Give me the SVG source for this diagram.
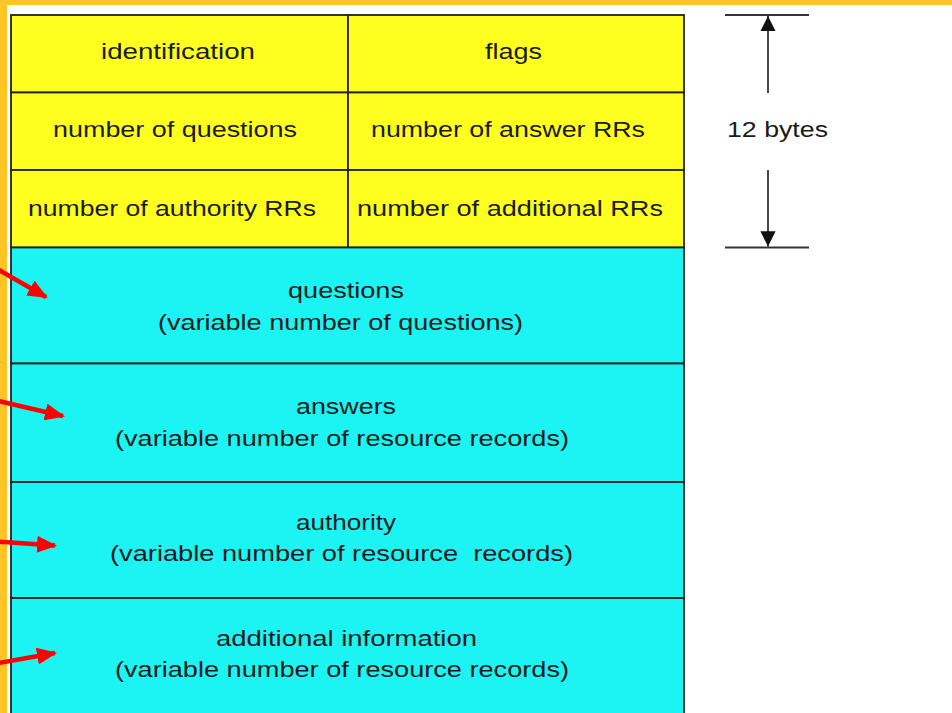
<svg xmlns="http://www.w3.org/2000/svg" width="952" height="713" viewBox="0 0 952 713">
<defs>
<style>
.y{fill:#FFFF1F;stroke:#222;stroke-width:1.8}
.c{fill:#1CF4F4;stroke:#222;stroke-width:1.8}
.t{font-family:"Liberation Sans",Arial,sans-serif;font-size:22px;fill:#1a1a1a;white-space:pre}
.red{stroke:#FF0000;stroke-width:4.5;fill:none}
.dim{stroke:#333;stroke-width:1.8;fill:none}
</style>
<marker id="rh" viewBox="0 0 20 17" refX="18" refY="8.5" markerWidth="20" markerHeight="17" orient="auto" markerUnits="userSpaceOnUse" preserveAspectRatio="none">
<path d="M0,0 L20,8.5 L0,17 z" fill="#FF0000"/>
</marker>
<marker id="bh" viewBox="0 0 10 10" refX="10" refY="5" markerWidth="8.5" markerHeight="9" orient="auto" markerUnits="strokeWidth">
<path d="M0,0 L10,5 L0,10 z" fill="#111"/>
</marker>
</defs>
<rect x="0" y="0" width="952" height="713" fill="#fff"/>
<rect x="0" y="0" width="952" height="5" fill="#FFC425"/>
<rect x="0" y="0" width="7" height="713" fill="#FFC425"/>

<g id="identification"><rect class="y" x="11" y="15" width="337" height="77.5"/><text class="t" x="101" y="59" textLength="154" lengthAdjust="spacingAndGlyphs">identification</text></g>
<g id="flags"><rect class="y" x="348" y="15" width="336" height="77.5"/><text class="t" x="485" y="59" textLength="57" lengthAdjust="spacingAndGlyphs">flags</text></g>
<g id="num-questions"><rect class="y" x="11" y="92.5" width="337" height="77.5"/><text class="t" x="53" y="137" textLength="244" lengthAdjust="spacingAndGlyphs">number of questions</text></g>
<g id="num-answer"><rect class="y" x="348" y="92.5" width="336" height="77.5"/><text class="t" x="371" y="137" textLength="274" lengthAdjust="spacingAndGlyphs">number of answer RRs</text></g>
<g id="num-authority"><rect class="y" x="11" y="170" width="337" height="77.5"/><text class="t" x="28" y="216" textLength="288" lengthAdjust="spacingAndGlyphs">number of authority RRs</text></g>
<g id="num-additional"><rect class="y" x="348" y="170" width="336" height="77.5"/><text class="t" x="357" y="216" textLength="306" lengthAdjust="spacingAndGlyphs">number of additional RRs</text></g>

<g id="questions"><rect class="c" x="11" y="247.5" width="673" height="116"/><text class="t" x="288" y="298" textLength="116" lengthAdjust="spacingAndGlyphs">questions</text><text class="t" x="158" y="330" textLength="365" lengthAdjust="spacingAndGlyphs">(variable number of questions)</text></g>
<g id="answers"><rect class="c" x="11" y="363.5" width="673" height="118.5"/><text class="t" x="296" y="414" textLength="100" lengthAdjust="spacingAndGlyphs">answers</text><text class="t" x="115" y="446" textLength="454" lengthAdjust="spacingAndGlyphs">(variable number of resource records)</text></g>
<g id="authority"><rect class="c" x="11" y="482" width="673" height="116"/><text class="t" x="296" y="530" textLength="100" lengthAdjust="spacingAndGlyphs">authority</text><text class="t" x="110" y="561" textLength="463" lengthAdjust="spacingAndGlyphs">(variable number of resource  records)</text></g>
<g id="additional"><rect class="c" x="11" y="598" width="673" height="125"/><text class="t" x="216" y="646" textLength="261" lengthAdjust="spacingAndGlyphs">additional information</text><text class="t" x="115" y="677" textLength="454" lengthAdjust="spacingAndGlyphs">(variable number of resource records)</text></g>

<g id="size-label">
<line class="dim" x1="725" y1="15" x2="809" y2="15"/>
<line class="dim" x1="725" y1="247.5" x2="809" y2="247.5"/>
<text class="t" x="727" y="137" textLength="101" lengthAdjust="spacingAndGlyphs">12 bytes</text>
</g>

<g id="connectors">
<line class="dim" x1="768" y1="93" x2="768" y2="16" marker-end="url(#bh)"/>
<line class="dim" x1="768" y1="170" x2="768" y2="246.5" marker-end="url(#bh)"/>
<line class="red" x1="-8" y1="266" x2="46" y2="297" marker-end="url(#rh)"/>
<line class="red" x1="-6" y1="400" x2="63" y2="416" marker-end="url(#rh)"/>
<line class="red" x1="-4" y1="541.5" x2="55" y2="545.5" marker-end="url(#rh)"/>
<line class="red" x1="-4" y1="663.5" x2="55" y2="653" marker-end="url(#rh)"/>
</g>
</svg>
